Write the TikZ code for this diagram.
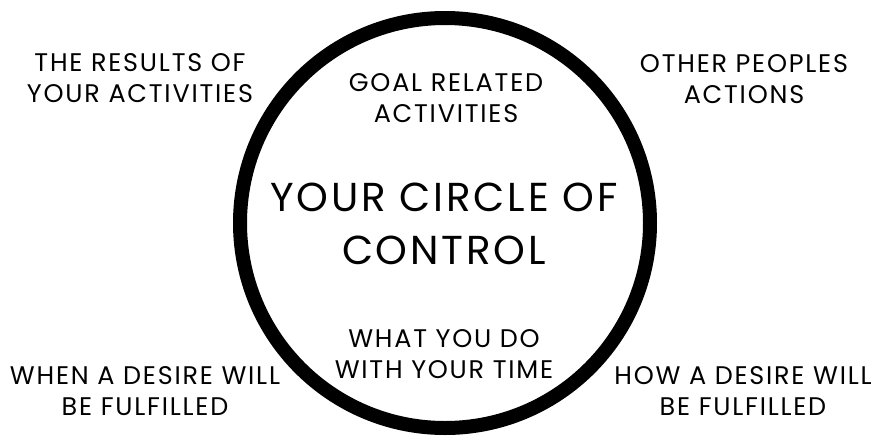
\documentclass[tikz,border=0pt]{standalone}
\usepackage{fontspec}
\setmainfont{Poppins}
\newfontfamily\handfont[LetterSpace=7]{Poppins}
\usetikzlibrary{positioning}

\begin{document}
\begin{tikzpicture}[x=0.02cm,y=-0.02cm,
  every node/.style={align=center,inner sep=0pt},
  outside/.style={font=\handfont\fontsize{14.5}{17.6}\selectfont},
  inside/.style={font=\handfont\fontsize{14.5}{17.8}\selectfont},
  title/.style={font=\handfont\fontsize{23}{30}\selectfont}]
\useasboundingbox (0,0) rectangle (873,437);
% the circle
\coordinate (c) at (445,223);
\draw[line width=0.28cm] (c) circle (205);
% inside the circle
\node[title] (circ) at (444,224) {YOUR CIRCLE OF\\CONTROL};
\node[inside] (goal) at (446,98) {GOAL RELATED\\ACTIVITIES};
\node[inside] (time) at (444,354) {WHAT YOU DO\\WITH YOUR TIME};
% outside the circle
\node[outside] (results) at (140,78) {THE RESULTS OF\\YOUR ACTIVITIES};
\node[outside] (others) at (744,79) {OTHER PEOPLES\\ACTIONS};
\node[outside] (when) at (145,391) {WHEN A DESIRE WILL\\BE FULFILLED};
\node[outside] (how) at (743,391) {HOW A DESIRE WILL\\BE FULFILLED};
\end{tikzpicture}
\end{document}
